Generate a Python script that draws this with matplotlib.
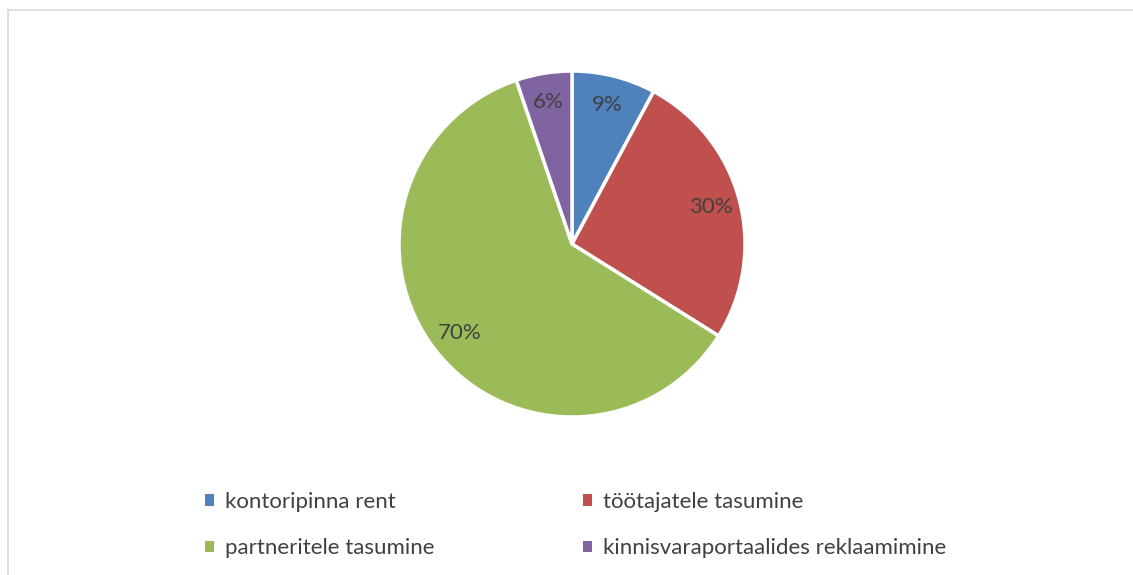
import matplotlib
matplotlib.use('Agg')
import matplotlib.pyplot as plt
from matplotlib.lines import Line2D
from matplotlib.patches import Patch

plt.rcParams['font.family'] = ['Lato', 'DejaVu Sans']

categories = ['kontoripinna rent', 'töötajatele tasumine',
              'partneritele tasumine', 'kinnisvaraportaalides reklaamimine']
values = [9, 30, 70, 6]
colors = ['#4f81bd', '#c0504d', '#9bbb59', '#8064a2']
INK = '#404040'
W, H = 1133, 575

fig = plt.figure(figsize=(W / 100, H / 100), dpi=100)
fig.patch.set_facecolor('white')

# chart-area frame (only top and left edges visible in the crop)
fig.add_artist(Line2D([8 / W, 1], [1 - 10 / H, 1 - 10 / H],
                      transform=fig.transFigure, color='#d9d9d9', lw=1.2))
fig.add_artist(Line2D([8 / W, 8 / W], [0, 1 - 10 / H],
                      transform=fig.transFigure, color='#d9d9d9', lw=1.2))

cx, cy, r = 572, 244, 173
ax = fig.add_axes([(cx - r) / W, (H - cy - r) / H, 2 * r / W, 2 * r / H])
total = sum(values)
wedges, _, autotexts = ax.pie(
    values, colors=colors, startangle=90, counterclock=False,
    autopct=lambda p: f'{p * total / 100:.0f}%', pctdistance=0.83,
    wedgeprops=dict(edgecolor='white', linewidth=2.5),
    textprops=dict(color=INK, fontsize=16))
ax.set_xlim(-1, 1)
ax.set_ylim(-1, 1)
ax.set_aspect('equal')
ax.axis('off')

# legend fills row by row in the original, matplotlib fills by column
order = [0, 2, 1, 3]
handles = [Patch(facecolor=colors[i], edgecolor='none') for i in order]
labels = [categories[i] for i in order]
fig.legend(handles, labels, ncol=2, loc='upper left',
           bbox_to_anchor=(205 / W, 1 - 492 / H), frameon=False,
           fontsize=16, labelcolor=INK, handlelength=0.4, handleheight=0.4,
           handletextpad=0.5, columnspacing=6.67, labelspacing=1.19,
           borderaxespad=0, borderpad=0)

fig.savefig('out.png', dpi=100, facecolor='white')
